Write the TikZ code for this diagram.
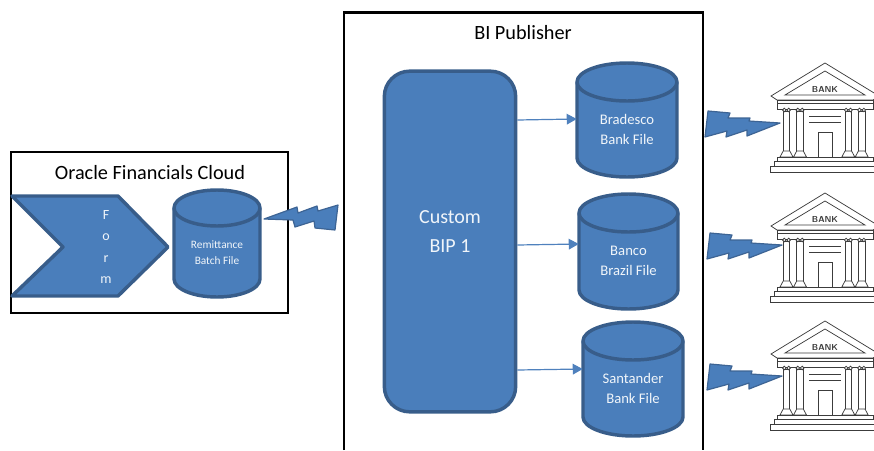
\documentclass[tikz,border=0pt]{standalone}
\usepackage{fontspec}
\setmainfont{Carlito}
\usetikzlibrary{arrows.meta}
\definecolor{shapefill}{HTML}{4A7EBB}
\definecolor{shapeedge}{HTML}{385D8A}
\definecolor{arrowblue}{HTML}{4F81BD}
\definecolor{bankline}{HTML}{3C3C3C}
\tikzset{
  x=0.75pt,y=-0.75pt,
  frame/.style={draw=black,line width=2.2pt},
  solid shape/.style={fill=shapefill,draw=shapeedge,line width=2.6pt,line join=round},
  bolt/.style={fill=shapefill,draw=shapeedge!80!arrowblue,line width=0.9pt,line join=round},
  title/.style={text=black,font=\fontsize{15.2}{17}\selectfont,inner sep=0pt},
  inshape/.style={text=white!92!shapefill,align=center,inner sep=0pt},
  conn/.style={draw=arrowblue,line width=0.9pt,-{Triangle[length=7.5pt,width=8pt]}},
  bankpen/.style={draw=bankline,line width=0.55pt,fill=white},
}
\newcommand{\dbcyl}[8]{% name, left, right, top, bottom, ry, font, text
  \path[solid shape] (#2,#4+#6) arc[start angle=180,end angle=360,x radius={(#3-#2)/2},y radius=#6]
    -- (#3,#5-#6) arc[start angle=0,end angle=180,x radius={(#3-#2)/2},y radius=#6] -- cycle;
  \draw[shapeedge,line width=2.6pt] (#2,#4+#6) arc[start angle=180,end angle=0,x radius={(#3-#2)/2},y radius=#6];
  \node[inshape,font=#7,minimum width={(#3-#2)*0.75pt},minimum height={(#5-#4-2*#6)*0.75pt}] (#1) at ({(#2+#3)/2},{(#4+#5)/2+#6/2}) {#8};
}
\newcommand{\boltshape}[2]{% dx dy from the top bolt
  \path[bolt,shift={(#1,#2)}] (708,111) -- (730,113) -- (728,118) -- (750,118) -- (749,121) -- (780,123)
    -- (747,136) -- (747,130) -- (726,137) -- (727,131) -- (705,137) -- cycle;
}
\newcommand{\bank}[3]{% name, apex x, apex y
  \begin{scope}[shift={(#2,#3)}]
    \draw[bankpen] (-54,33) -- (0,0) -- (54,33) -- (48,37) -- (-48,37) -- cycle;
    \draw[bankpen] (-40,32) -- (0,8) -- (40,32) -- cycle;
    \draw[bankpen] (-48,37) rectangle (48,46);
    \draw[bankline,line width=0.55pt] (-48,40) -- (48,40);
    \foreach \cx in {-38.5,-25,23.3,36.7}{
      \draw[bankpen] (\cx-3.3,48) rectangle (\cx+3.3,88);
      \draw[bankpen] (\cx-2.2,47) circle[radius=1.8];
      \draw[bankpen] (\cx+2.2,47) circle[radius=1.8];
      \draw[bankpen] (\cx-6.5,94) -- (\cx-3.3,88) -- (\cx+3.3,88) -- (\cx+6.5,94) -- cycle;
    }
    \draw[bankline,line width=0.55pt] (-16,53) -- (16,53) (-16,59) -- (16,59);
    \draw[bankpen] (-7,69) rectangle (7,94);
    \draw[bankpen] (-48,94) rectangle (48,98);
    \draw[bankpen] (-51,98) rectangle (51,103);
    \draw[bankpen] (-55,103) rectangle (55,109);
    \node[font=\sffamily\bfseries\fontsize{6.5}{7}\selectfont,text=bankline,inner sep=0pt] (#1) at (0,26) {BANK};
  \end{scope}
}
\begin{document}
\begin{tikzpicture}
\useasboundingbox (0,0) rectangle (874,450);
% frames
\draw[frame] (11,152) rectangle (288,313);
\draw[frame] (344,450) -- (344,12.5) -- (703,12.5) -- (703,450);
\node[title] (oracle) at (150,173) {Oracle Financials Cloud};
\node[title] (bipub) at (523,33) {BI Publisher};
% form chevron
\path[solid shape] (12,196) -- (118,196) -- (168,247) -- (118,296) -- (12,296) -- (63,247) -- cycle;
\node[inshape,font=\fontsize{10.5}{15.8}\selectfont] (form) at (106,247) {F\\o\\r\\m};
% cylinders
\dbcyl{remit}{174}{260}{190}{297}{18}{\fontsize{8.5}{12}\selectfont}{Remittance\\Batch File}
\dbcyl{brad}{577}{677}{63}{177}{19}{\fontsize{11}{15.6}\selectfont}{Bradesco\\Bank File}
\dbcyl{banco}{579}{678}{194}{309}{19}{\fontsize{11}{15}\selectfont}{Banco\\Brazil File}
\dbcyl{sant}{583}{683}{322}{436}{19}{\fontsize{11}{15}\selectfont}{Santander\\Bank File}
% custom BIP
\node[solid shape,rounded corners=19pt,minimum width=98.5pt,minimum height=255.5pt,inner sep=0pt] (bip) at (450,241.5) {};
\node[inshape,font=\fontsize{15}{21.75}\selectfont] (biptext) at (450,231.5) {Custom\\BIP 1};
% connectors
\draw[conn] (bip.east |- 0,120) -- (brad.west |- 0,119);
\draw[conn] (bip.east |- 0,245) -- (banco.west |- 0,244);
\draw[conn] (bip.east |- 0,370) -- (sant.west |- 0,369);
% bolts
\path[bolt] (264,219) -- (297,207) -- (298,213) -- (317,206) -- (318,211) -- (338,205) -- (335,230)
  -- (315,228) -- (314,221) -- (295,227) -- (293,220) -- cycle;
\boltshape{0}{0}
\boltshape{2}{122}
\boltshape{2}{253}
% banks
\bank{bank1}{825}{63}
\bank{bank2}{825}{193}
\bank{bank3}{825}{321}
\end{tikzpicture}
\end{document}
